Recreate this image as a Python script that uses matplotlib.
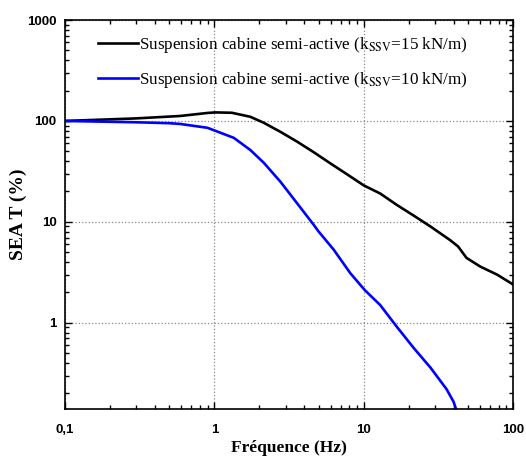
import matplotlib
matplotlib.use('Agg')
import matplotlib.pyplot as plt
from matplotlib.ticker import LogLocator, FixedLocator, NullFormatter

plt.rcParams['mathtext.fontset'] = 'stix'

# black curve: k_SSV = 15 kN/m
freq_15 = [0.1, 0.3, 0.59, 0.9, 1.016, 1.31, 1.74, 2.14, 2.77, 3.58, 4.63, 5.98, 7.74, 10.0,
           12.9, 16.7, 21.7, 28.0, 37.9, 42.9, 48.8, 60.5, 78.3, 100.0]
seat_15 = [100, 106, 112, 120, 121.5, 120.5, 110, 96, 78, 62.4, 49, 38, 29.6, 23,
           19.1, 14.7, 11.5, 9.0, 6.6, 5.7, 4.4, 3.6, 3.0, 2.4]

# blue curve: k_SSV = 10 kN/m
freq_10 = [0.1, 0.3, 0.5, 0.59, 0.9, 1.35, 1.74, 2.14, 2.77, 3.58, 4.63, 5.0, 6.3, 8.14,
           10.2, 12.9, 16.7, 21.7, 28.0, 35.9, 40.0, 43.0]
seat_10 = [100, 97, 95, 93.4, 85.5, 68, 51.6, 38.6, 25, 15.3, 9.34, 8.0, 5.3, 3.1,
           2.1, 1.5, 0.91, 0.56, 0.36, 0.22, 0.165, 0.12]

xticks = [0.1, 1, 10, 100]
xlabels = ['0,1', '1', '10', '100']
yticks = [1, 10, 100, 1000]
ylabels = ['1', '10', '100', '1000']

fig = plt.figure(figsize=(5.26, 4.58), dpi=100)
ax = fig.add_axes([0.1236, 0.107, 0.8517, 0.8493])

ax.plot(freq_15, seat_15, color='black', lw=1.9,
        label=r'Suspension cabine semi-active (k$_{\mathrm{SSV}}$=15 kN/m)')
ax.plot(freq_10, seat_10, color='#0000ff', lw=1.9,
        label=r'Suspension cabine semi-active (k$_{\mathrm{SSV}}$=10 kN/m)')

ax.set_xscale('log')
ax.set_yscale('log')
ax.set_xlim(0.1, 100)
ax.set_ylim(0.14, 1000)

ax.xaxis.set_major_locator(FixedLocator(xticks))
ax.set_xticklabels(xlabels)
ax.yaxis.set_major_locator(FixedLocator(yticks))
ax.set_yticklabels(ylabels)
ax.xaxis.set_minor_locator(LogLocator(base=10, subs=range(2, 10)))
ax.yaxis.set_minor_locator(LogLocator(base=10, subs=range(2, 10)))
ax.xaxis.set_minor_formatter(NullFormatter())
ax.yaxis.set_minor_formatter(NullFormatter())

for lab in ax.get_xticklabels() + ax.get_yticklabels():
    lab.set_fontfamily('Liberation Sans')
    lab.set_fontweight('bold')
    lab.set_fontsize(9.5)

ax.tick_params(which='both', direction='in', top=True, right=True, width=1)
ax.tick_params(which='major', length=5, pad=6)
ax.tick_params(axis='x', which='major', pad=11)
ax.tick_params(which='minor', length=3)
for s in ax.spines.values():
    s.set_linewidth(1.2)

ax.grid(True, which='major', linestyle=':', color='#888888', lw=0.9)

ax.set_xlabel('Fréquence (Hz)', fontfamily='Liberation Serif', fontweight='bold', fontsize=12.5, labelpad=3)
ax.set_ylabel('SEA T (%)', fontfamily='Liberation Serif', fontweight='bold', fontsize=14)
ax.yaxis.set_label_coords(-0.085, 0.5)

ax.legend(loc='upper left', frameon=False, prop={'family': 'Liberation Serif', 'size': 12.3},
          handlelength=2.3, handletextpad=0.1, labelspacing=0.85,
          bbox_to_anchor=(0.04, 1.0))

fig.savefig('out.png', dpi=100)
